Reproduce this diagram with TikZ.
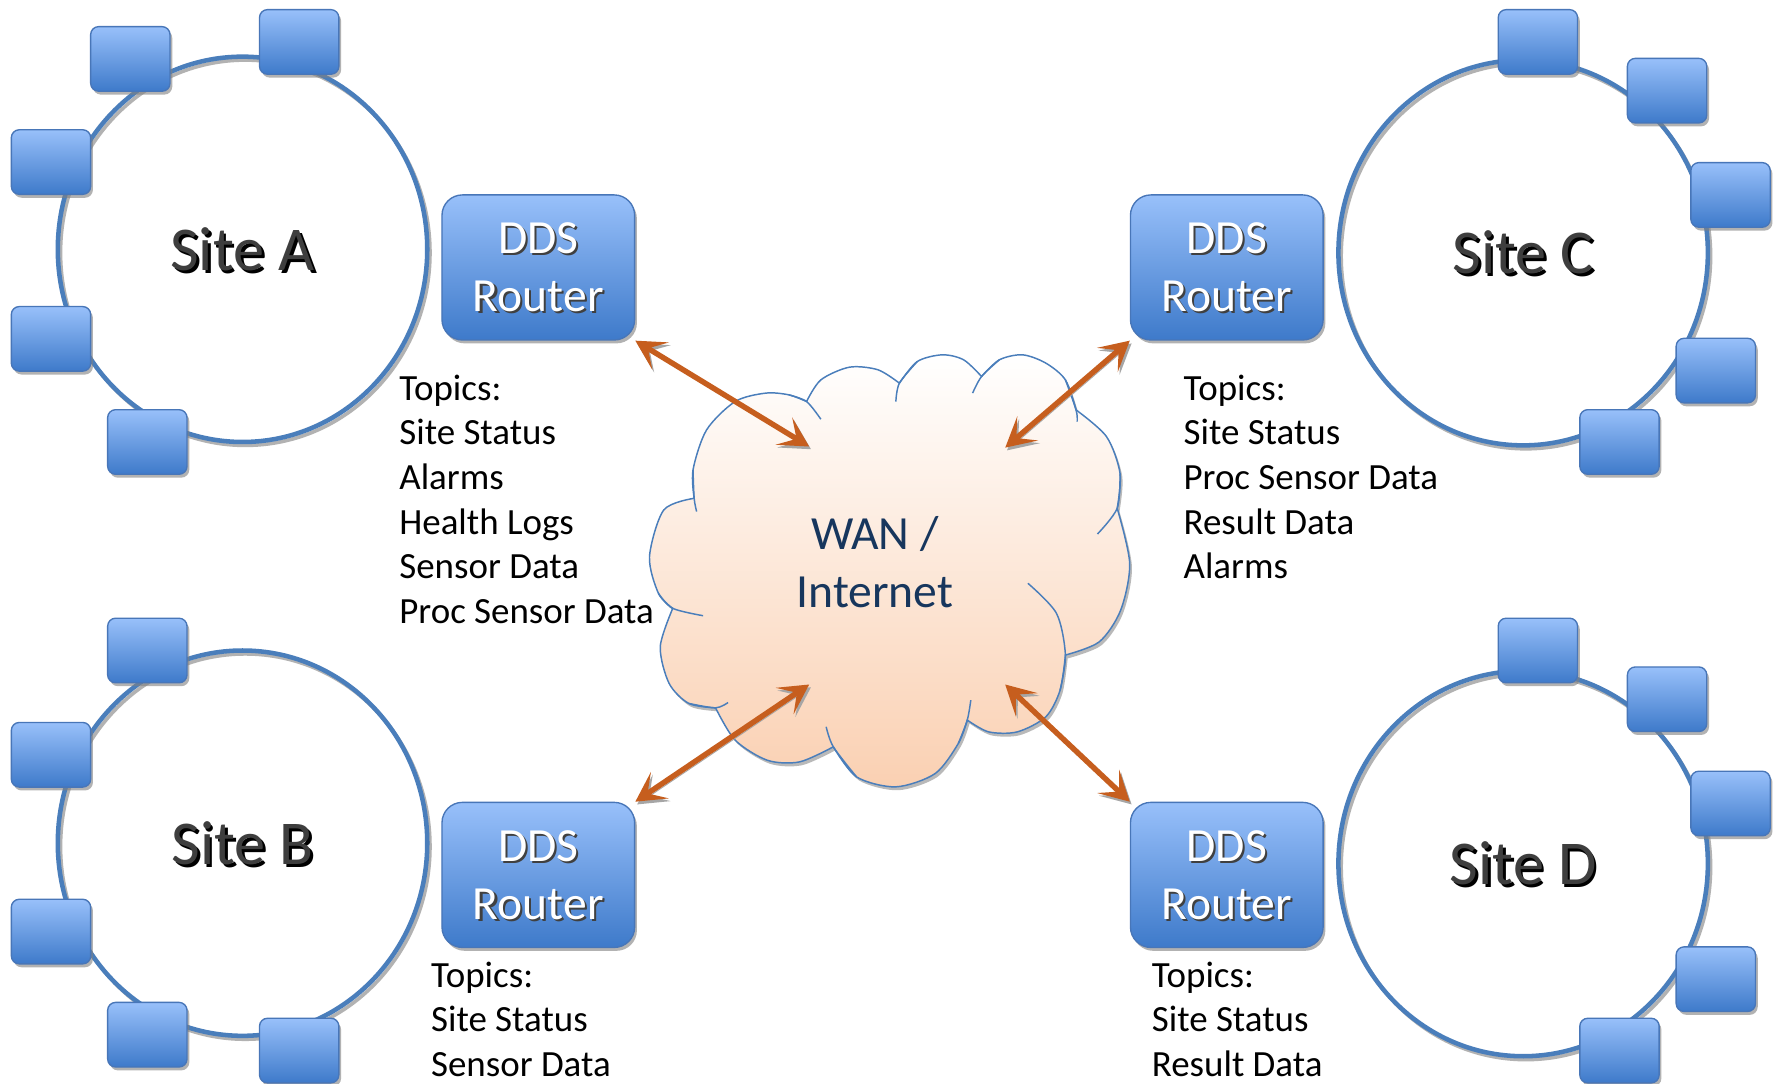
\documentclass[tikz,border=0pt]{standalone}
\usepackage{fontspec}
\setmainfont{Carlito}
\usetikzlibrary{shapes.geometric,arrows.meta,shadows}
\definecolor{siteblue}{RGB}{74,126,187}
\definecolor{devtop}{RGB}{152,192,250}
\definecolor{devbot}{RGB}{62,122,202}
\definecolor{devline}{RGB}{72,118,184}
\definecolor{arrowc}{RGB}{198,94,30}
\definecolor{wantext}{RGB}{23,54,93}
\definecolor{cloudbot}{RGB}{250,208,178}
\definecolor{labelgray}{RGB}{62,62,62}
\newcommand\mkrouter[3]{%
  \node[routerbox] (#1) at (#2,#3) {};
  \node[routertext, text=black!75] (#1s) at ([shift={(0.9pt,-0.9pt)}]#1.center) {DDS\\Router};
  \node[routertext, text=white] (#1t) at (#1.center) {DDS\\Router};
}
\newcommand\mksite[4]{%
  \node[siteellipse] (#1) at (#2,#3) {};
  \node[sitetext, text=black] (#1s) at ([shift={(1.2pt,-1.2pt)}]#1.center) {#4};
  \node[sitetext, text=labelgray] (#1t) at (#1.center) {#4};
}
\begin{document}
\begin{tikzpicture}[x=0.5pt,y=-0.5pt,
  siteellipse/.style={ellipse, draw=siteblue, line width=2pt, minimum width=163pt, minimum height=170pt, inner sep=0pt,
    preaction={draw=gray!60, line width=1.6pt, transform canvas={shift={(1.2pt,-1.5pt)}}}},
  sitetext/.style={inner sep=0pt, font=\fontsize{27.5pt}{33pt}\selectfont},
  device/.style={draw=devline, line width=0.6pt, rounded corners=3.5pt, top color=devtop, bottom color=devbot,
    minimum width=35pt, minimum height=28.5pt, inner sep=0pt,
    drop shadow={shadow xshift=1pt, shadow yshift=-1.5pt, fill=gray, opacity=0.6}},
  routerbox/.style={draw=devline, line width=0.6pt, rounded corners=9pt, top color=devtop, bottom color=devbot,
    minimum width=85pt, minimum height=64pt, inner sep=0pt,
    drop shadow={shadow xshift=1pt, shadow yshift=-1.5pt, fill=gray, opacity=0.6}},
  routertext/.style={inner sep=0pt, align=center, font=\fontsize{21pt}{25.5pt}\selectfont},
  topics/.style={inner sep=0pt, anchor=base west, font=\fontsize{16.3pt}{19.7pt}\selectfont},
  wantext/.style={inner sep=0pt, align=center, text=wantext, font=\fontsize{21pt}{25.5pt}\selectfont},
  cloudline/.style={draw=siteblue, line width=0.65pt},
  biarrow/.style={draw=arrowc, line width=2.4pt,
    {Stealth[length=13pt,width=14pt,inset=6.5pt]}-{Stealth[length=13pt,width=14pt,inset=6.5pt]},
    preaction={draw=gray!70, transform canvas={shift={(0.8pt,-1.2pt)}}}}
]
\useasboundingbox[fill=white] (0,0) rectangle (1568,956.5);

% sites
\mksite{sA}{214}{220}{Site A}
\mksite{sB}{214}{744}{Site B}
\mksite{sC}{1344}{223}{Site C}
\mksite{sD}{1344}{762}{Site D}

% devices site A
\node[device] (a1) at (115,52) {};
\node[device] (a2) at (264,37) {};
\node[device] (a3) at (45,143) {};
\node[device] (a4) at (45,299) {};
\node[device] (a5) at (130,390) {};
% site B
\node[device] (b1) at (130,574) {};
\node[device] (b2) at (45,666) {};
\node[device] (b3) at (45,822) {};
\node[device] (b4) at (130,913) {};
\node[device] (b5) at (264,927) {};
% site C
\node[device] (c1) at (1357,37) {};
\node[device] (c2) at (1471,80) {};
\node[device] (c3) at (1527,172) {};
\node[device] (c4) at (1514,327) {};
\node[device] (c5) at (1429,390) {};
% site D
\node[device] (d1) at (1357,574) {};
\node[device] (d2) at (1471,617) {};
\node[device] (d3) at (1527,709) {};
\node[device] (d4) at (1514,864) {};
\node[device] (d5) at (1429,927) {};

% cloud
\path[cloudline, top color=white, bottom color=cloudbot,
  preaction={fill=gray!55, transform canvas={shift={(1pt,-1.5pt)}}}]
  plot[smooth] coordinates {(612.5,439.7) (585.7,450) (573.1,491.2) (581,523.6) (593.6,536.8)}
  -- plot[smooth] coordinates {(593.6,536.8) (582.6,570.7) (590.4,603) (607.8,620.7) (631.4,624.6)}
  -- plot[smooth] coordinates {(631.4,624.6) (648.7,653.1) (677,670.8) (705.4,672.3) (735.3,659)}
  -- plot[smooth] coordinates {(735.3,659) (755.8,685.5) (790.5,694.3) (825.1,682.6) (845.6,656) (853.5,635.4)}
  -- plot[smooth] coordinates {(853.5,635.4) (872.4,645.8) (897.6,645.8) (922.8,632.5) (935.4,609) (940.1,578)}
  -- plot[smooth] coordinates {(940.1,578) (970,566.3) (988.9,538.3) (996.8,497) (985.8,448.5)}
  -- plot[smooth] coordinates {(985.8,448.5) (988.3,417.6) (976.3,385.2) (949.5,361.7)}
  -- plot[smooth] coordinates {(949.5,361.7) (940.1,335.2) (922.8,320.4) (902.3,313.1) (881.8,317.5) (866.1,332.2)}
  -- plot[smooth] coordinates {(866.1,332.2) (850.3,317.5) (831.4,313.1) (809.4,319) (793.6,338.1)}
  -- plot[smooth] coordinates {(793.6,338.1) (774.7,326.3) (749.5,324) (724.3,335.2) (711.7,354.3)}
  -- plot[smooth] coordinates {(711.7,354.3) (696,348.4) (675.5,346.9) (648.7,354.3) (623.5,379.3) (611.5,414.6) (612.5,439.7)}
  -- cycle;
\draw[cloudline] plot[smooth] coordinates {(696,348.4) (711.7,354.3) (724.3,369.9)};
\draw[cloudline] plot[smooth] coordinates {(809.4,319) (793.6,338.1) (790.5,354.3)};
\draw[cloudline] plot[smooth] coordinates {(881.8,317.5) (866.1,332.2) (858.2,346.9)};
\draw[cloudline] plot[smooth] coordinates {(940.1,335.2) (949.5,361.7) (950.5,372)};
\draw[cloudline] plot[smooth] coordinates {(988.3,417.6) (985.8,448.5) (968.4,471.2)};
\draw[cloudline] plot[smooth] coordinates {(935.4,609) (940.1,578) (932.2,541.2) (907,514.7)};
\draw[cloudline] plot[smooth] coordinates {(845.6,656) (853.5,635.4) (856.6,617.8)};
\draw[cloudline] plot[smooth] coordinates {(755.8,685.5) (735.3,659) (729,641.3)};
\draw[cloudline] plot[smooth] coordinates {(607.8,620.7) (631.4,624.6) (642.4,619.9)};
\draw[cloudline] plot[smooth] coordinates {(581,523.6) (593.6,536.8) (620.4,543.3)};
\draw[cloudline] plot[smooth] coordinates {(611.5,414.6) (612.5,439.7) (614.7,451.4)};
\node[wantext] (wan) at (772,496) {WAN /\\Internet};

% routers
\mkrouter{rA}{475}{236}
\mkrouter{rB}{475}{772}
\mkrouter{rC}{1082.5}{236}
\mkrouter{rD}{1082.5}{772}

% arrow ends in the cloud
\coordinate (cA) at (714,394);
\coordinate (cC) at (887,395);
\coordinate (cB) at (714,604);
\coordinate (cD) at (887,604);
\draw[biarrow] (rA.south east) -- (cA);
\draw[biarrow] (rC.south west) -- (cC);
\draw[biarrow] (rB.north east) -- (cB);
\draw[biarrow] (rD.north west) -- (cD);

% topics
\node[topics] (tA) at (352,353) {\vtop{\hbox{Topics:}\hbox{Site Status}\hbox{Alarms}\hbox{Health Logs}\hbox{Sensor Data}\hbox{Proc Sensor Data}}};
\node[topics] (tC) at (1044,353) {\vtop{\hbox{Topics:}\hbox{Site Status}\hbox{Proc Sensor Data}\hbox{Result Data}\hbox{Alarms}}};
\node[topics] (tB) at (380,871) {\vtop{\hbox{Topics:}\hbox{Site Status}\hbox{Sensor Data}}};
\node[topics] (tD) at (1016,871) {\vtop{\hbox{Topics:}\hbox{Site Status}\hbox{Result Data}}};
\end{tikzpicture}
\end{document}
